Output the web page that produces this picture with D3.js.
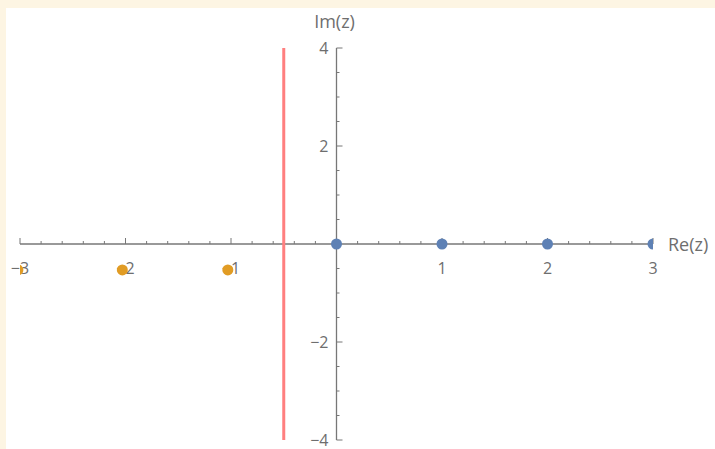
<!DOCTYPE html>
<html><head><meta charset="utf-8">
<script src="https://cdn.jsdelivr.net/npm/d3@7"></script>
<style>html,body{margin:0;padding:0;background:#fdf5e3;overflow:hidden}</style>
</head><body>
<script>
// Data
const xTicks = [-3, -2, -1, 1, 2, 3];
const yTicks = [-4, -2, 2, 4];
const zerosRe = [0, 1, 2, 3];
const zerosIm = [0, 0, 0, 0];
const polesRe = [-1.03, -2.03, -3.02];
const polesIm = [-0.53, -0.53, -0.53];
const lineRe = [-0.5, -0.5];
const lineIm = [4, -4];

const W = 715, H = 449;
const svg = d3.select("body").append("svg").attr("width", W).attr("height", H);
svg.append("rect").attr("width", W).attr("height", H).attr("fill", "#fdf5e3");
svg.append("rect").attr("x", 6).attr("y", 8).attr("width", W - 6).attr("height", H - 8).attr("fill", "#ffffff");

const x = d3.scaleLinear().domain([-3, 3]).range([20, 653]);
const y = d3.scaleLinear().domain([-4, 4]).range([440, 48]);

const axisColor = "#777";
const textColor = "#6e6e6e";
const font = "'Open Sans', sans-serif";

svg.append("defs").append("clipPath").attr("id", "clip")
  .append("rect").attr("x", x(-3)).attr("y", y(4) - 2).attr("width", x(3) - x(-3)).attr("height", y(-4) - y(4) + 4);

// x axis
const xg = svg.append("g").attr("transform", `translate(0,${y(0)})`);
xg.append("line").attr("x1", x(-3)).attr("x2", x(3)).attr("stroke", axisColor).attr("stroke-width", 1.3);
const xMinor = d3.range(-3, 3.001, 0.2).filter(v => Math.abs(v - Math.round(v)) > 1e-6);
xg.selectAll(".xmin").data(xMinor).enter().append("line")
  .attr("x1", d => x(d)).attr("x2", d => x(d)).attr("y1", 0).attr("y2", -3)
  .attr("stroke", axisColor).attr("stroke-width", 1);
xg.selectAll(".xmaj").data(xTicks).enter().append("line")
  .attr("x1", d => x(d)).attr("x2", d => x(d)).attr("y1", 0).attr("y2", -6)
  .attr("stroke", axisColor).attr("stroke-width", 1);
xg.selectAll(".xl").data(xTicks).enter().append("text")
  .attr("x", d => x(d)).attr("y", 30).attr("text-anchor", "middle")
  .attr("font-family", font).attr("font-size", 16).attr("fill", textColor)
  .text(d => d3.format("")(d).replace("-", "\u2212"));

// y axis
const yg = svg.append("g").attr("transform", `translate(${x(0)},0)`);
yg.append("line").attr("y1", y(4)).attr("y2", y(-4)).attr("stroke", axisColor).attr("stroke-width", 1.3);
const yMinor = d3.range(-4, 4.001, 0.5).filter(v => Math.abs(v / 2 - Math.round(v / 2)) > 1e-6);
yg.selectAll(".ymin").data(yMinor).enter().append("line")
  .attr("y1", d => y(d)).attr("y2", d => y(d)).attr("x1", 0).attr("x2", 3)
  .attr("stroke", axisColor).attr("stroke-width", 1);
yg.selectAll(".ymaj").data(yTicks).enter().append("line")
  .attr("y1", d => y(d)).attr("y2", d => y(d)).attr("x1", 0).attr("x2", 6)
  .attr("stroke", axisColor).attr("stroke-width", 1);
yg.selectAll(".yl").data(yTicks).enter().append("text")
  .attr("x", -8).attr("y", d => y(d) + 6).attr("text-anchor", "end")
  .attr("font-family", font).attr("font-size", 16).attr("fill", textColor)
  .text(d => d3.format("")(d).replace("-", "\u2212"));

// axis labels
svg.append("text").attr("x", x(0) - 2).attr("y", 28).attr("text-anchor", "middle")
  .attr("font-family", font).attr("font-size", 18).attr("fill", textColor).text("Im(z)");
svg.append("text").attr("x", x(3) + 15).attr("y", y(0) + 7)
  .attr("font-family", font).attr("font-size", 18).attr("fill", textColor).text("Re(z)");

const plot = svg.append("g").attr("clip-path", "url(#clip)");
// red line
plot.append("line")
  .attr("x1", x(lineRe[0])).attr("x2", x(lineRe[1]))
  .attr("y1", y(lineIm[0])).attr("y2", y(lineIm[1]))
  .attr("stroke", "#ff7f7f").attr("stroke-width", 3);

// zeros (blue)
plot.selectAll(".z").data(zerosRe).enter().append("circle")
  .attr("cx", d => x(d)).attr("cy", (d, i) => y(zerosIm[i])).attr("r", 5.5)
  .attr("fill", "#5e81b5");
// poles (orange)
plot.selectAll(".p").data(polesRe).enter().append("circle")
  .attr("cx", d => x(d)).attr("cy", (d, i) => y(polesIm[i])).attr("r", 5.5)
  .attr("fill", "#e19c24");
</script>
</body></html>
